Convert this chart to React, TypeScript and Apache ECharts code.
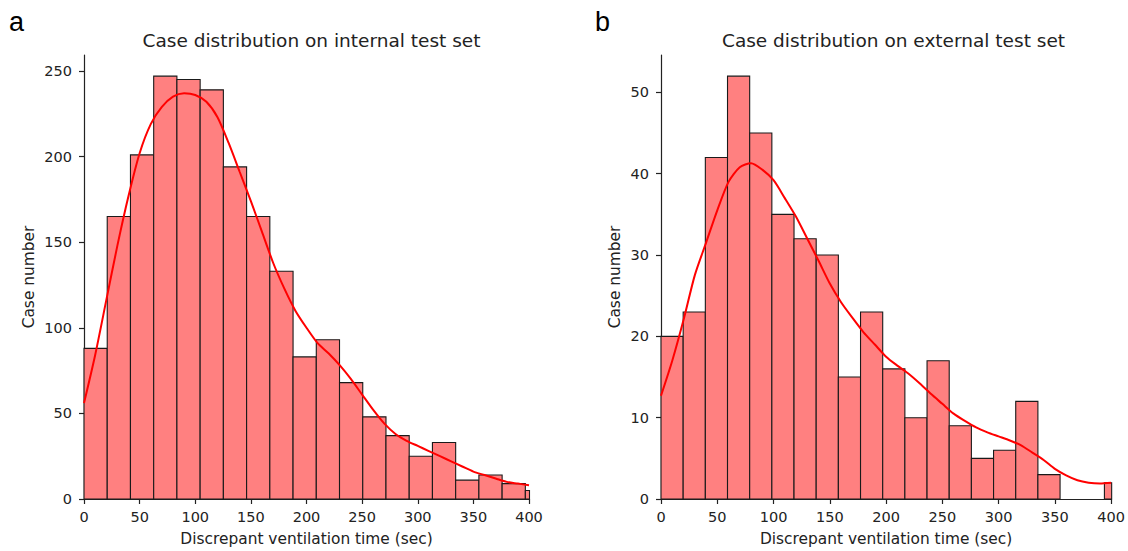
import React, { useEffect, useRef } from "react";
import * as echarts from "echarts";

// ---- data ----
const xTicks = [0, 50, 100, 150, 200, 250, 300, 350, 400];
const leftYTicks = [0, 50, 100, 150, 200, 250];
const rightYTicks = [0, 10, 20, 30, 40, 50];

const leftBinWidth = 20.88;
const leftCounts = [88, 165, 201, 247, 245, 239, 194, 165, 133, 83, 93, 68, 48, 37, 25, 33, 11, 14, 9, 5];
const rightBinWidth = 19.7;
const rightCounts = [20, 23, 42, 52, 45, 35, 32, 30, 15, 23, 16, 10, 17, 9, 5, 6, 12, 3, 0, 0, 2];

const kdeX = [0, 10, 20, 30, 40, 50, 60, 70, 80, 90, 100, 110, 120, 130, 140, 150, 160, 170, 180, 190, 200,
  210, 220, 230, 240, 250, 260, 270, 280, 290, 300, 310, 320, 330, 340, 350, 360, 370, 380, 390, 400];
const kdeLeft = [56, 84, 116, 148, 177, 202, 219, 229, 235, 237, 236, 232, 223, 208, 191, 174, 156, 138, 123, 110, 100,
  91, 85, 78, 70, 61, 52, 44, 38, 34, 31, 28, 25, 22, 19, 16, 14, 12, 10, 9, 8];
const kdeRight = [12.7, 17, 22, 27.5, 31.5, 35.5, 39, 40.8, 41.3, 40.5, 39.2, 37, 34.7, 32, 29.3, 26.5, 24.2, 22.3, 20.5, 19, 17.5,
  16.4, 15.4, 14.2, 12.9, 11.7, 10.5, 9.6, 8.8, 8.2, 7.7, 7.2, 6.6, 5.7, 4.8, 3.7, 2.9, 2.3, 2.0, 1.9, 2.0];

const titles = ["Case distribution on internal test set", "Case distribution on external test set"];
const panelLabels = ["a", "b"];
const xName = "Discrepant ventilation time (sec)";
const yName = "Case number";

const FONT = "DejaVu Sans";

function binData(counts: number[], width: number) {
  return counts.map((c, i) => [i * width, (i + 1) * width, c]);
}

function renderBar(params: any, api: any) {
  const x0 = api.value(0);
  const x1 = api.value(1);
  const v = api.value(2);
  if (!v) return null;
  const p0 = api.coord([x0, v]);
  const p1 = api.coord([x1, 0]);
  const cs = params.coordSys;
  const shape = echarts.graphic.clipRectByRect(
    { x: p0[0], y: p0[1], width: p1[0] - p0[0], height: p1[1] - p0[1] },
    { x: cs.x, y: cs.y, width: cs.width + 0.5, height: cs.height }
  );
  if (!shape) return null;
  return {
    type: "rect",
    shape,
    style: { fill: "#ff8080", stroke: "#1a1a1a", lineWidth: 1.1 },
  };
}

export default function App() {
  const ref = useRef<HTMLDivElement>(null);
  useEffect(() => {
    if (!ref.current) return;
    const chart = echarts.init(ref.current, null, { renderer: "svg" });
    const axisLineStyle = { color: "#222", width: 1.2 };
    const tickLabel = { color: "#222", fontFamily: FONT, fontSize: 14.5 };
    const nameStyle = { color: "#222", fontFamily: FONT, fontSize: 15.4 };
    const grids = [
      { left: 84, top: 55, width: 445, height: 450 },
      { left: 661, top: 55, width: 455, height: 450 },
    ];
    const xAxes = grids.map((_, i) => ({
      type: "value",
      gridIndex: i,
      min: 0,
      max: 400,
      interval: 50,
      name: xName,
      nameLocation: "middle",
      nameGap: 32,
      nameTextStyle: nameStyle,
      axisLine: { show: true, lineStyle: axisLineStyle },
      axisTick: { show: true, length: 5, lineStyle: axisLineStyle, customValues: xTicks },
      axisLabel: { ...tickLabel, margin: 10, customValues: xTicks },
      splitLine: { show: false },
    }));
    const yMax = [Math.max(...leftCounts) * 1.05, Math.max(...rightCounts) * 1.05];
    const yTickSets = [leftYTicks, rightYTicks];
    const yAxes = grids.map((_, i) => ({
      type: "value",
      gridIndex: i,
      min: 0,
      max: yMax[i],
      name: yName,
      nameLocation: "middle",
      nameGap: i === 0 ? 48 : 39,
      nameTextStyle: nameStyle,
      axisLine: { show: true, lineStyle: axisLineStyle },
      axisTick: { show: true, length: 5, lineStyle: axisLineStyle, customValues: yTickSets[i] },
      axisLabel: { ...tickLabel, margin: 12, customValues: yTickSets[i] },
      splitLine: { show: false },
    }));
    const titleStyle = { fontFamily: FONT, fontSize: 18.5, fontWeight: "normal", color: "#222" };
    const panelStyle = { fontFamily: "Liberation Sans", fontSize: 27, fontWeight: "normal", color: "#000" };
    const option: any = {
      animation: false,
      backgroundColor: "#fff",
      title: [
        { text: titles[0], left: 306.5, top: 26, textAlign: "center", textStyle: titleStyle },
        { text: titles[1], left: 888.5, top: 26, textAlign: "center", textStyle: titleStyle },
        { text: panelLabels[0], left: 9, top: 8, padding: 0, textStyle: panelStyle },
        { text: panelLabels[1], left: 595, top: 8, padding: 0, textStyle: panelStyle },
      ],
      grid: grids,
      xAxis: xAxes,
      yAxis: yAxes,
      series: [
        {
          type: "custom",
          xAxisIndex: 0,
          yAxisIndex: 0,
          renderItem: renderBar,
          encode: { x: [0, 1], y: 2 },
          data: binData(leftCounts, leftBinWidth),
          z: 2,
        },
        {
          type: "custom",
          xAxisIndex: 1,
          yAxisIndex: 1,
          renderItem: renderBar,
          encode: { x: [0, 1], y: 2 },
          data: binData(rightCounts, rightBinWidth),
          z: 2,
        },
        {
          type: "line",
          xAxisIndex: 0,
          yAxisIndex: 0,
          data: kdeX.map((x, i) => [x, kdeLeft[i]]),
          smooth: 0.25,
          showSymbol: false,
          lineStyle: { color: "#ff0000", width: 2 },
          z: 3,
        },
        {
          type: "line",
          xAxisIndex: 1,
          yAxisIndex: 1,
          data: kdeX.map((x, i) => [x, kdeRight[i]]),
          smooth: 0.25,
          showSymbol: false,
          lineStyle: { color: "#ff0000", width: 2 },
          z: 3,
        },
      ],
    };
    chart.setOption(option);
    return () => chart.dispose();
  }, []);
  return (
    <div
      ref={ref}
      style={{ position: "absolute", left: 0, top: 0, width: 1128, height: 551 }}
    />
  );
}
